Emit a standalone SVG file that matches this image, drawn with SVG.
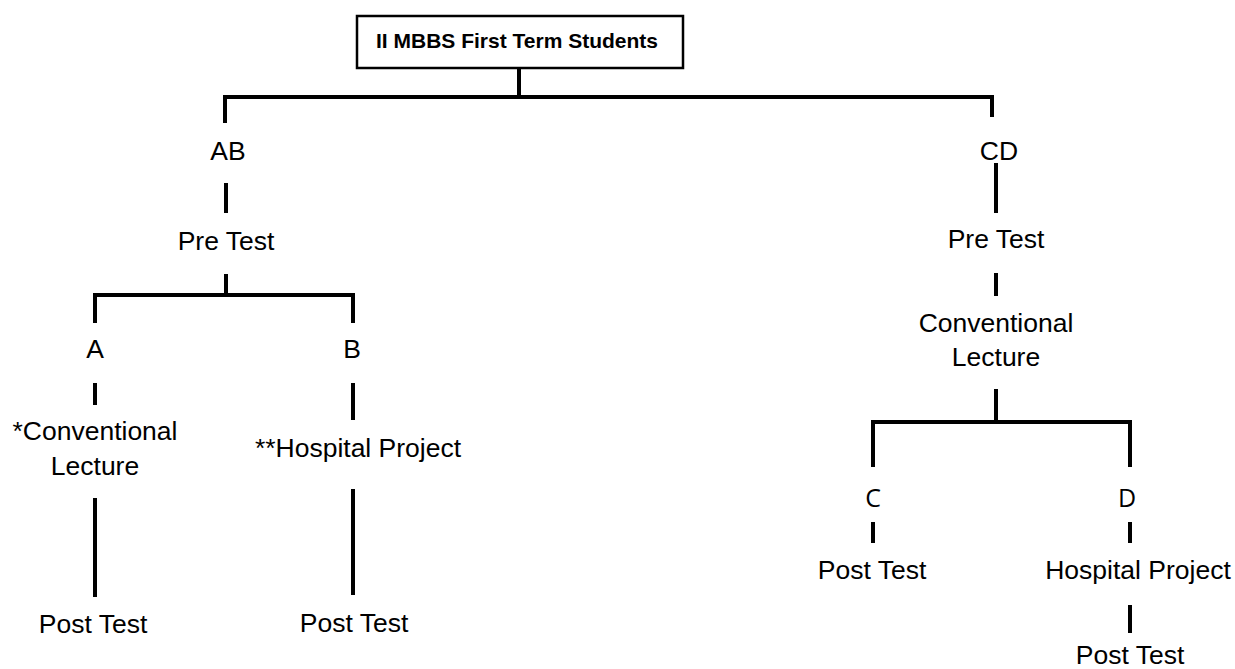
<svg xmlns="http://www.w3.org/2000/svg" width="1235" height="669" viewBox="0 0 1235 669">
<style>
.t{font-family:"Liberation Sans",Arial,sans-serif;font-size:26.5px;fill:#000;text-anchor:middle}
.b{font-weight:bold;font-size:21px}
.c{font-family:"Open Sans","Liberation Sans",sans-serif;font-size:25px}
.l{stroke:#000;stroke-width:4;fill:none}
</style>
<rect width="1235" height="669" fill="#fff"/>
<g id="root"><rect x="357" y="16" width="326" height="52" fill="#fff" stroke="#000" stroke-width="2.5"/><text class="t b" x="517" y="48">II MBBS First Term Students</text></g>
<g id="AB"><text class="t" x="228" y="160">AB</text></g>
<g id="AB-pre"><text class="t" x="226" y="250">Pre Test</text></g>
<g id="A"><text class="t" x="95" y="358">A</text></g>
<g id="B"><text class="t" x="352" y="358">B</text></g>
<g id="A-lecture"><text class="t" x="95" y="440">*Conventional</text><text class="t" x="95" y="475">Lecture</text></g>
<g id="B-project"><text class="t" x="358" y="457">**Hospital Project</text></g>
<g id="A-post"><text class="t" x="93" y="633">Post Test</text></g>
<g id="B-post"><text class="t" x="354" y="632">Post Test</text></g>
<g id="CD"><text class="t" x="999" y="160">CD</text></g>
<g id="CD-pre"><text class="t" x="996" y="248">Pre Test</text></g>
<g id="CD-lecture"><text class="t" x="996" y="332">Conventional</text><text class="t" x="996" y="366">Lecture</text></g>
<g id="C"><text class="t c" x="873" y="507">C</text></g>
<g id="D"><text class="t c" x="1127" y="507">D</text></g>
<g id="C-post"><text class="t" x="872" y="579">Post Test</text></g>
<g id="D-project"><text class="t" x="1138" y="579">Hospital Project</text></g>
<g id="D-post"><text class="t" x="1130" y="664">Post Test</text></g>
<g id="connectors" class="l">
<path d="M519 68V97M225 123V97H992V117"/>
<path d="M226 183V213M226 274V295M95 323V295H353V323"/>
<path d="M95 383V405M95 498V597"/>
<path d="M353 383V420M353 489V595"/>
<path d="M996 163V213M996 273V296M996 389V422M873 467V422H1130V467"/>
<path d="M873 522V543M1130 522V543M1130 605V633"/>
</g>
</svg>
